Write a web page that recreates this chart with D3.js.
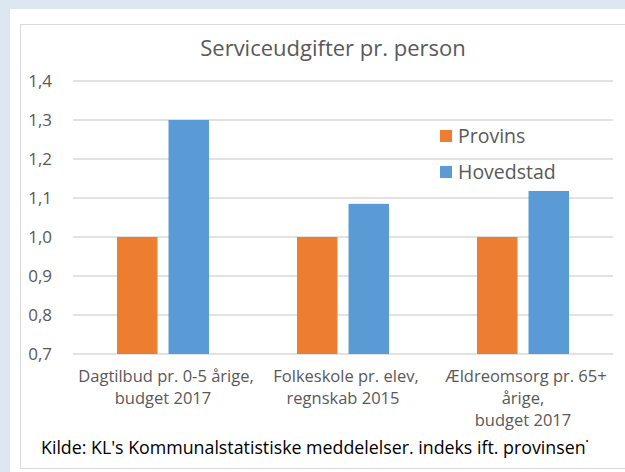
<!DOCTYPE html>
<html>
<head>
<meta charset="utf-8">
<script src="https://cdn.jsdelivr.net/npm/d3@7"></script>
<style>
  body { margin: 0; background: #dce7f1; }
  svg text { font-family: "Open Sans", Lato, sans-serif; }
</style>
</head>
<body>
<div id="chart"></div>
<script>
const categories = [
  ["Dagtilbud pr. 0-5 årige,", "budget 2017"],
  ["Folkeskole pr. elev,", "regnskab 2015"],
  ["Ældreomsorg pr. 65+", "årige,", "budget 2017"]
];
const seriesNames = ["Provins", "Hovedstad"];
const provins = [1.0, 1.0, 1.0];
const hovedstad = [1.3, 1.085, 1.118];
const yTicks = [0.7, 0.8, 0.9, 1.0, 1.1, 1.2, 1.3, 1.4];
const colors = ["#ed7d31", "#5b9bd5"];

const width = 625, height = 472;
const margin = { left: 73, right: 12, top: 81, bottom: 118 };

const svg = d3.select("#chart")
  .append("svg")
  .attr("width", width)
  .attr("height", height);

// white panel + chart border
svg.append("rect").attr("x", 10).attr("y", 9).attr("width", 620).attr("height", 470).attr("fill", "#fff");
svg.append("rect").attr("x", 20.5).attr("y", 24.5).attr("width", 620).attr("height", 444)
  .attr("fill", "#fff").attr("stroke", "#d9d9d9").attr("stroke-width", 1);

const x = d3.scaleBand()
  .domain(d3.range(categories.length))
  .range([margin.left, width - margin.right]);

const y = d3.scaleLinear()
  .domain([0.7, 1.4])
  .range([354, 81]);

const x1 = d3.scaleBand()
  .domain(seriesNames)
  .range([0, x.bandwidth()])
  .paddingInner(0.214)
  .paddingOuter(0.854);

// gridlines
svg.append("g")
  .selectAll("line")
  .data(yTicks)
  .enter().append("line")
  .attr("x1", margin.left)
  .attr("x2", width - margin.right)
  .attr("y1", d => y(d))
  .attr("y2", d => y(d))
  .attr("stroke", "#d9d9d9")
  .attr("stroke-width", 1.5);

// y labels
const fmt = d => d3.format(".1f")(d).replace(".", ",");
svg.append("g")
  .selectAll("text")
  .data(yTicks)
  .enter().append("text")
  .attr("x", 52)
  .attr("y", d => y(d))
  .attr("dy", "0.35em")
  .attr("text-anchor", "end")
  .attr("font-size", 17)
  .attr("fill", "#595959")
  .text(fmt);

// bars
const series = [provins, hovedstad];
series.forEach((vals, si) => {
  svg.append("g")
    .selectAll("rect")
    .data(vals)
    .enter().append("rect")
    .attr("x", (d, i) => x(i) + x1(seriesNames[si]))
    .attr("width", x1.bandwidth())
    .attr("y", d => y(d))
    .attr("height", d => y(0.7) - y(d))
    .attr("fill", colors[si]);
});

// x labels
const xl = svg.append("g")
  .selectAll("text")
  .data(categories)
  .enter().append("text")
  .attr("x", (d, i) => x(i) + x.bandwidth() / 2)
  .attr("y", 382)
  .attr("text-anchor", "middle")
  .attr("font-size", 16.5)
  .attr("fill", "#595959");
xl.selectAll("tspan")
  .data(d => d)
  .enter().append("tspan")
  .attr("x", function (d, i) { return +this.parentNode.getAttribute("x") + (i === 0 ? 3 : 0); })
  .attr("dy", (d, i) => i === 0 ? 0 : 22)
  .text(d => d);

// title
svg.append("text")
  .attr("x", 333)
  .attr("y", 56)
  .attr("text-anchor", "middle")
  .attr("font-size", 22)
  .attr("fill", "#595959")
  .text("Serviceudgifter pr. person");

// legend
const legend = svg.append("g")
  .selectAll("g")
  .data(seriesNames)
  .enter().append("g")
  .attr("transform", (d, i) => `translate(440, ${130 + i * 36})`);
legend.append("rect")
  .attr("width", 12).attr("height", 12)
  .attr("fill", (d, i) => colors[i]);
legend.append("text")
  .attr("x", 18)
  .attr("y", 12.5)
  .attr("font-size", 19.5)
  .attr("fill", "#595959")
  .text(d => d);

// source note
svg.append("text")
  .attr("x", 41)
  .attr("y", 454)
  .attr("font-size", 17.8)
  .attr("fill", "#000")
  .text("Kilde: KL's Kommunalstatistiske meddelelser. indeks ift. provinsen˙");
</script>
</body>
</html>
